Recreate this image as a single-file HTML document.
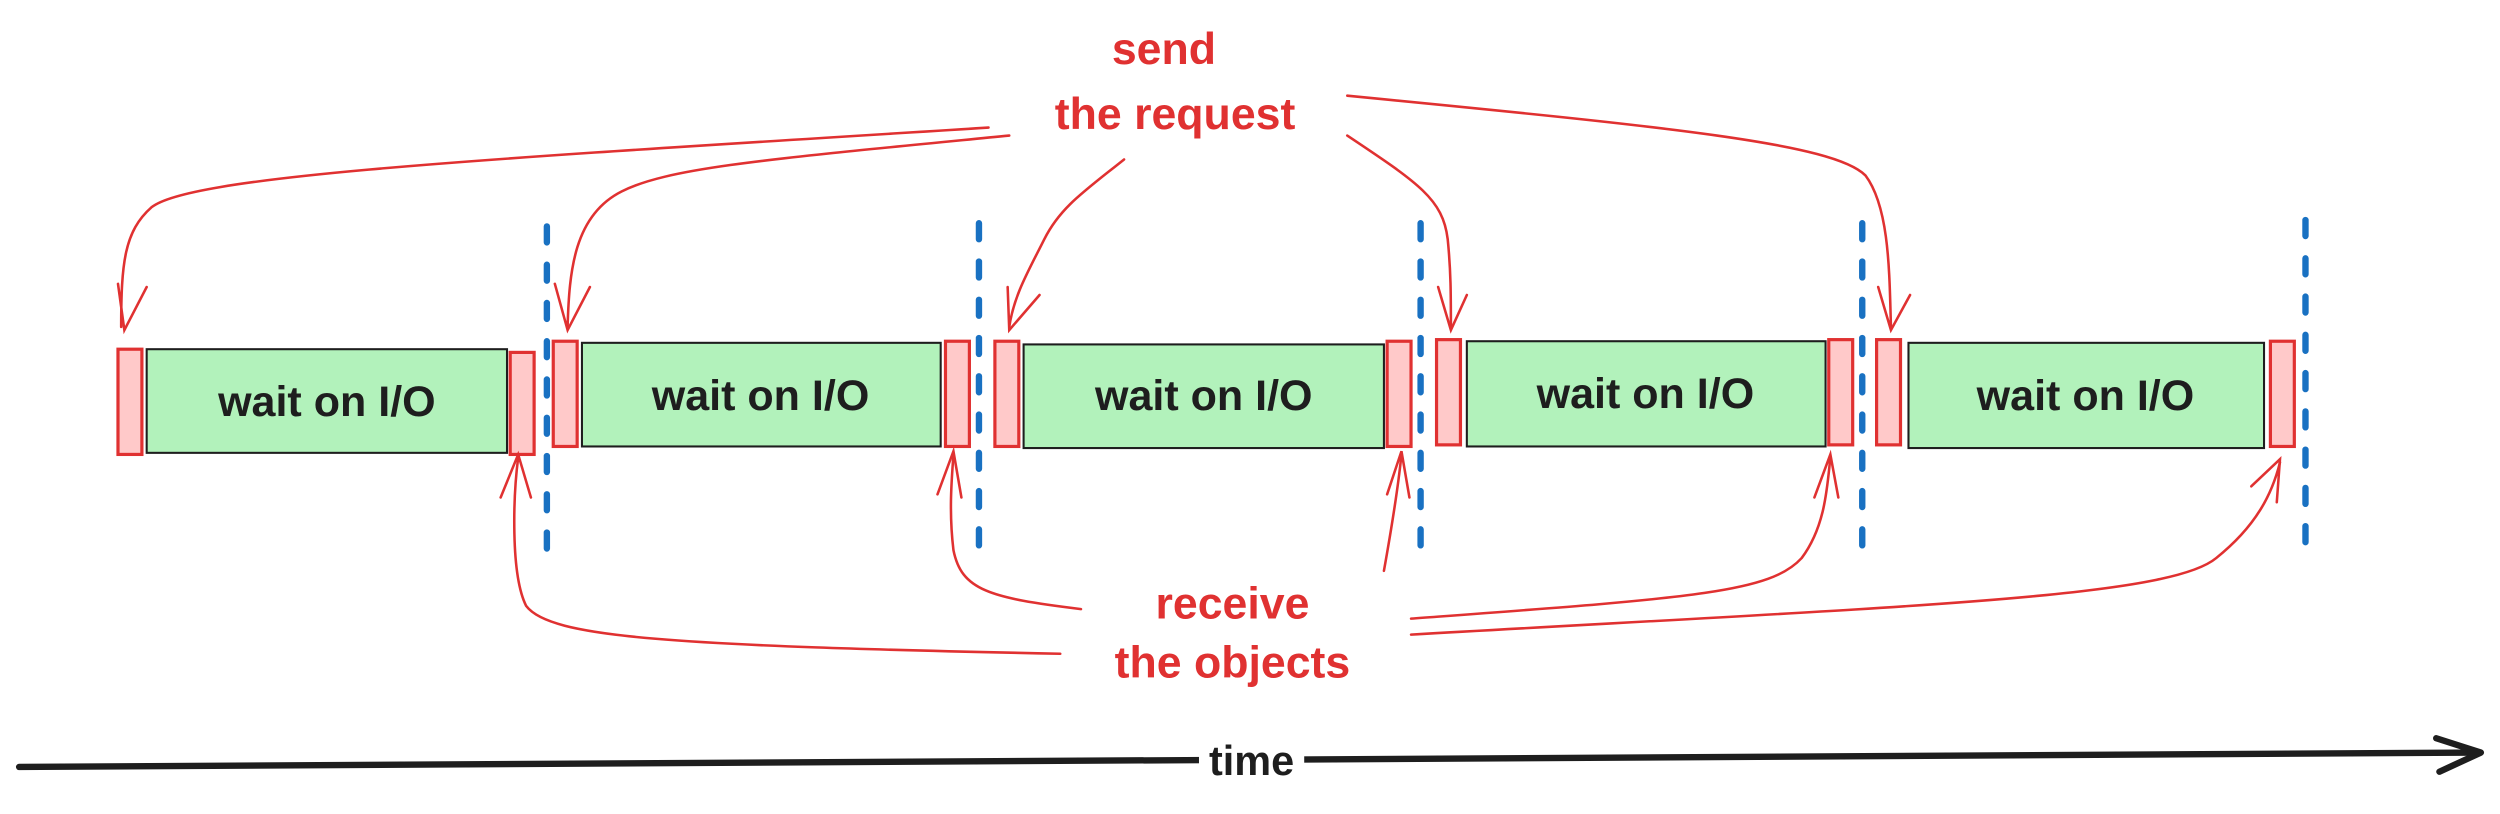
<!DOCTYPE html>
<html><head><meta charset="utf-8"><style>
html,body{margin:0;padding:0;background:#fff;}
svg{display:block;}
</style></head><body>
<svg width="2500" height="814" viewBox="0 0 1568 510.5" xmlns="http://www.w3.org/2000/svg">
<rect width="1568" height="510.5" fill="#fff"/>
<g font-family="'Liberation Sans', sans-serif">
<g stroke="#1971c2" stroke-width="4" stroke-linecap="round" stroke-dasharray="10 14">
<line x1="343" y1="142" x2="343" y2="345"/>
<line x1="614" y1="140" x2="614" y2="345"/>
<line x1="891" y1="140" x2="891" y2="345"/>
<line x1="1168" y1="140" x2="1168" y2="345"/>
<line x1="1446" y1="138" x2="1446" y2="345"/>
</g>
<g fill="#b2f2bb" stroke="#1e1e1e" stroke-width="1.3">
<rect x="92" y="219" width="226" height="65"/>
<rect x="365" y="215" width="225" height="65"/>
<rect x="642" y="216" width="226" height="65"/>
<rect x="920" y="214" width="225" height="66"/>
<rect x="1197" y="215" width="223" height="66"/>
</g>
<g fill="#ffc9c9" stroke="#e03131" stroke-width="2">
<rect x="74" y="219" width="15" height="66"/>
<rect x="320" y="221" width="15" height="64"/>
<rect x="347" y="214" width="15" height="66"/>
<rect x="593" y="214" width="15" height="66"/>
<rect x="624" y="214" width="15" height="66"/>
<rect x="870" y="214" width="15" height="66"/>
<rect x="901" y="213" width="15" height="66"/>
<rect x="1147" y="213" width="15" height="66"/>
<rect x="1177" y="213" width="15" height="66"/>
<rect x="1424" y="214" width="15" height="66"/>
</g>
<g font-size="27" font-weight="bold" fill="#1e1e1e" text-anchor="middle">
<text x="205" y="261">wait on I/O</text>
<text x="477" y="257">wait on I/O</text>
<text x="755" y="257">wait on I/O</text>
<text x="1032" y="256">wait on I/O</text>
<text x="1308" y="257">wait on I/O</text>
</g>
<g font-size="28" font-weight="bold" fill="#e03131" text-anchor="middle">
<text x="730" y="40">send</text>
<text x="737" y="81">the request</text>
<text x="773" y="388">receive</text>
<text x="773" y="425">the objects</text>
</g>
<g fill="none" stroke="#e03131" stroke-width="1.6" stroke-linecap="round">
<path d="M620 80 C300 100 120 110 95 130 C78 145 76 165 76 205"/>
<path d="M74 178 L78 207 L92 180"/>
<path d="M633 85 C480 100 420 105 390 120 C360 135 357 170 356 205"/>
<path d="M348 178 L356 207 L370 180"/>
<path d="M705 100 C680 120 665 130 655 150 C645 170 636 185 633 205"/>
<path d="M632 180 L633 207 L652 185"/>
<path d="M845 85 C890 115 905 125 908 150 C910 170 910 185 910 205"/>
<path d="M902 180 L910 207 L920 185"/>
<path d="M845 60 C1050 80 1150 90 1170 110 C1185 130 1185 170 1186 205"/>
<path d="M1178 180 L1186 207 L1198 185"/>
<path d="M678 382 C620 375 603 370 598 345 C595 320 597 300 598 285"/>
<path d="M588 310 L598 283 L603 312"/>
<path d="M665 410 C420 405 345 400 330 380 C320 360 322 310 325 287"/>
<path d="M314 312 L325 285 L333 312"/>
<path d="M868 358 C873 330 877 305 879 285"/>
<path d="M870 310 L879 283 L884 312"/>
<path d="M885 388 C1060 375 1110 372 1130 350 C1145 330 1146 305 1148 287"/>
<path d="M1138 312 L1148 285 L1153 312"/>
<path d="M885 398 C1200 380 1360 375 1390 350 C1415 330 1425 310 1430 290"/>
<path d="M1412 305 L1430 288 L1428 315"/>
</g>
<path d="M12 481 L1555 472" stroke="#1e1e1e" stroke-width="4" stroke-linecap="round" fill="none"/>
<path d="M1528 463 L1556 472 L1530 484" stroke="#1e1e1e" stroke-width="4" stroke-linecap="round" stroke-linejoin="round" fill="none"/>
<rect x="752" y="462" width="66" height="26" fill="#fff"/>
<text x="785" y="486" font-size="26" font-weight="bold" fill="#1e1e1e" text-anchor="middle">time</text>
</g>
</svg>
</body></html>
